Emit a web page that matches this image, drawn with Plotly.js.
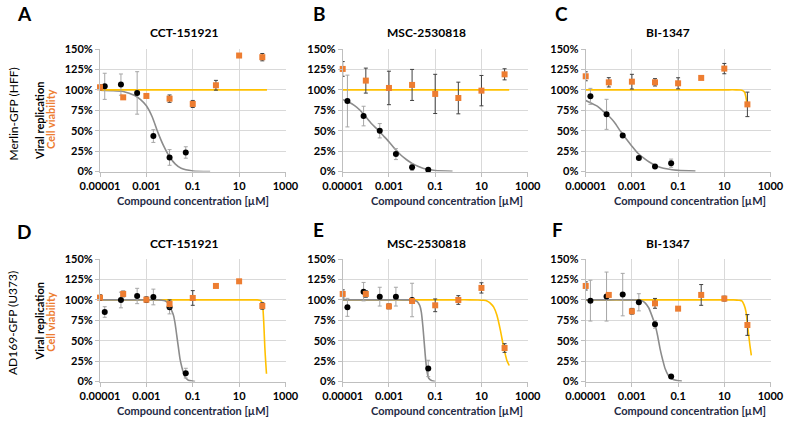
<!DOCTYPE html>
<html>
<head>
<meta charset="utf-8">
<script src="https://cdn.plot.ly/plotly-3.0.1.min.js"></script>
<style>html,body{margin:0;padding:0;background:#fff;}#chart{width:785px;height:422px;}</style>
</head>
<body>
<div id="chart"></div>
<script>
// ---------- DATA ----------
const panelLetters = ["A", "B", "C", "D", "E", "F"];
const compounds = ["CCT-151921", "MSC-2530818", "BI-1347", "CCT-151921", "MSC-2530818", "BI-1347"];
const rowTitles = ["Merlin-GFP (HFF)", "AD169-GFP (U373)"];
const xTickVals = [1e-5, 1e-3, 0.1, 10, 1000];
const xTickText = ["0.00001", "0.001", "0.1", "10", "1000"];

// concentrations (µM)
const concViral = [1.6e-5, 8e-5, 4e-4, 2e-3, 1e-2, 5e-2];
const concViab = [1e-5, 1e-4, 1e-3, 1e-2, 0.1, 1, 10, 100];

// Viral replication (%) and SD
const viralA = [104.3, 106.4, 96.2, 43.4, 17.2, 23.3];
const viralErrA = [16, 13, 26, 7.8, 9.6, 7];
const viralB = [86.3, 67.9, 49.9, 21.3, 5.3, 2];
const viralErrB = [31.7, 12, 8.8, 6.7, 4, 1.5];
const viralC = [92, 70, 44.2, 16.4, 6.1, 10.2];
const viralErrC = [9.8, 18.4, 2, 1, 2.5, 5];
const viralD = [85.1, 99.8, 104.7, 103.5, 90.8, 10.2];
const viralErrD = [6.5, 9.6, 9.4, 9.6, 8, 6];
const viralE = [90.8, 110, 103.9, 103.9, 99.8, 16];
const viralErrE = [11, 11.3, 11.5, 11.5, 20.5, 10];
const viralF = [99, 104, 106.4, 97, 70, 6.1];
const viralErrF = [25, 30, 26, 10.5, 4.7, 1.5];

// Cell viability (%) and SD
const viabA = [103.1, 90.8, 92.5, 89.2, 82.7, 105.6, 142, 140];
const viabErrA = [3, 1.5, 1.5, 4.5, 4.3, 6, 1.5, 4.5];
const viabB = [125.6, 111.3, 102.3, 106, 95, 90, 99, 119];
const viabErrB = [9, 15.3, 20.5, 19, 24, 19.4, 18.6, 6.8];
const viabC = [116.6, 109.2, 110, 109.2, 108, 114.6, 126, 82.2];
const viabErrC = [5.5, 5.7, 9, 4.5, 6.8, 0, 6.3, 15];
const viabD = [102.7, 107.2, 100.2, 94.9, 102.3, 117, 122.7, 92.5];
const viabErrD = [3.5, 3.5, 3.5, 5, 9, 2, 2, 4];
const viabE = [107.2, 107.2, 92, 98.6, 93.3, 99.8, 114.6, 41];
const viabErrE = [5, 4, 3, 3, 7.8, 5.3, 6.3, 5.3];
const viabF = [117, 106, 86, 95.7, 89.2, 106, 101.5, 69.2];
const viabErrF = [5, 1.5, 3.5, 6, 0, 12.7, 3, 12.7];

// Fitted viral curves: log10(conc) and %
const fitViralLogA = [-5, -4.5, -4, -3.5, -3.25, -3, -2.75, -2.5, -2.25, -2, -1.75, -1.5, -1, -0.25];
const fitViralA = [99.5, 99, 98, 93, 88, 80.5, 67, 47.6, 31, 18, 9, 3.9, 0.7, 0];
const fitViralLogB = [-5, -4.75, -4.5, -4.25, -4, -3.75, -3.5, -3.25, -3, -2.75, -2.5, -2.25, -2, -1.75, -1.5, -1, -0.25];
const fitViralB = [88, 85, 81, 75, 67, 58.5, 51.5, 44, 36.5, 28, 20.5, 14.7, 9.9, 6.3, 3.7, 1.3, 0.3];
const fitViralLogC = [-5, -4.75, -4.5, -4.25, -4, -3.75, -3.5, -3.25, -3, -2.75, -2.5, -2.25, -2, -1.75, -1.5, -1, -0.25];
const fitViralC = [87, 83.5, 80, 74, 68, 60, 49.5, 40, 31, 22.6, 16.6, 11.6, 7.7, 5, 3.3, 1.4, 0.4];
const fitViralLogD = [-5, -4, -3, -2.7, -2.5, -2.35, -2.2, -2.05, -1.94, -1.83, -1.76, -1.69, -1.62, -1.55, -1.47, -1.4, -1.33, -1.19, -0.97, -0.9];
const fitViralD = [100, 100, 100, 100, 99.9, 99.6, 98.8, 95.5, 89, 81, 70.8, 56.5, 42, 27.8, 17.6, 10.2, 5.3, 1.6, 0.4, 0];
const fitViralLogE = [-5, -4, -3, -2.4, -2.15, -2.0, -1.9, -1.79, -1.67, -1.6, -1.53, -1.47, -1.41, -1.35, -1.28, -1.14, -1.0];
const fitViralE = [100, 100, 100, 100, 99.9, 99.6, 99.2, 98.2, 93.3, 85, 66.7, 46, 25.8, 11.5, 4, 0.8, 0];
const fitViralLogF = [-5, -4, -3.3, -3.0, -2.8, -2.68, -2.57, -2.43, -2.28, -2.14, -1.99, -1.89, -1.78, -1.66, -1.56, -1.42, -1.27, -1.05, -0.84];
const fitViralF = [100, 100, 100, 99.9, 99.7, 99.4, 98.8, 96.3, 90.6, 81, 68.7, 56.5, 40, 25.8, 15.5, 7.4, 3.3, 1.2, 0.4];

// Fitted viability curves
const fitViabLogA = [-5, 2.2];
const fitViabA = [100, 100];
const fitViabLogB = [-5, 2.2];
const fitViabB = [100, 100];
const fitViabLogC = [-5, -3, -1, 0.5, 1.2, 1.5, 1.7, 1.8, 1.88, 1.93, 1.97, 2.0];
const fitViabC = [100, 100, 100, 100, 100, 100, 99.8, 99, 97, 92, 85, 81];
const fitViabLogD = [-5, -3, -1, 0.5, 1.3, 1.6, 1.78, 1.88, 1.94, 1.978, 2.022, 2.065, 2.108, 2.151, 2.18];
const fitViabD = [100, 100, 100, 100, 100, 100, 99.9, 99.6, 98.8, 97.4, 91, 70.8, 42, 21.7, 9.4];
const fitViabLogE = [-5, -3, -1, 0, 0.5, 0.85, 1.095, 1.24, 1.38, 1.53, 1.67, 1.82, 1.96, 2.1, 2.2];
const fitViabE = [100, 100, 100, 100, 100, 99.8, 99.4, 98.6, 96, 91, 81, 62.6, 42, 25.8, 19.6];
const fitViabLogF = [-5, -3, -1, 0.5, 1.1, 1.4, 1.55, 1.66, 1.76, 1.86, 1.94, 1.99, 2.05, 2.11, 2.17];
const fitViabF = [100, 100, 100, 100, 100, 99.9, 99.7, 99.4, 98.8, 93.5, 85.3, 73, 58.5, 44, 32];

// ---------- BUILD ----------
const W = 785, H = 422;
const viral = [viralA, viralB, viralC, viralD, viralE, viralF];
const viralErr = [viralErrA, viralErrB, viralErrC, viralErrD, viralErrE, viralErrF];
const viab = [viabA, viabB, viabC, viabD, viabE, viabF];
const viabErr = [viabErrA, viabErrB, viabErrC, viabErrD, viabErrE, viabErrF];
const fitVLog = [fitViralLogA, fitViralLogB, fitViralLogC, fitViralLogD, fitViralLogE, fitViralLogF];
const fitV = [fitViralA, fitViralB, fitViralC, fitViralD, fitViralE, fitViralF];
const fitCLog = [fitViabLogA, fitViabLogB, fitViabLogC, fitViabLogD, fitViabLogE, fitViabLogF];
const fitC = [fitViabA, fitViabB, fitViabC, fitViabD, fitViabE, fitViabF];

const colPx = [[100, 285.5], [342.7, 527.7], [585.7, 770.5]];
const rowPx = [[49, 171.5], [259, 381.5]];
const titleX = [183.7, 426.7, 668];
const xTitleX = [192.5, 446.7, 689.7];
const letterPos = [[24, 13], [319.5, 13], [561, 13], [24, 231], [318, 230], [557, 229]];

const FONT = "Lato, 'Open Sans', sans-serif";
const ORANGE = "#ED7D31";
const GOLD = "#FFC000";
const CURVE = "#8C8C8C";

const px = x => x / W;
const py = y => 1 - y / H;
const toConc = arr => arr.map(v => Math.pow(10, v));

const traces = [];
const layout = {
  width: W, height: H,
  margin: {l: 0, r: 0, t: 0, b: 0},
  paper_bgcolor: "#fff", plot_bgcolor: "#fff",
  showlegend: false,
  font: {family: FONT, color: "#000"},
  annotations: []
};

for (let i = 0; i < 6; i++) {
  const col = i % 3, row = Math.floor(i / 3);
  const n = i === 0 ? "" : String(i + 1);
  const xa = "x" + n, ya = "y" + n;

  layout["xaxis" + n] = {
    type: "log", range: [-5, 3],
    domain: [px(colPx[col][0]), px(colPx[col][1])],
    anchor: ya,
    tickmode: "array", tickvals: xTickVals, ticktext: xTickText,
    showgrid: true, gridcolor: "#D9D9D9", gridwidth: 1,
    showline: true, linecolor: "#BFBFBF", linewidth: 1,
    ticks: "outside", ticklen: 4, tickcolor: "#BFBFBF",
    tickfont: {size: 11, family: FONT, weight: 700, color: "#000"},
    zeroline: false, fixedrange: true
  };
  layout["yaxis" + n] = {
    range: [0, 150],
    domain: [py(rowPx[row][1]), py(rowPx[row][0])],
    anchor: xa,
    tickmode: "linear", tick0: 0, dtick: 25, ticksuffix: "%",
    showgrid: true, gridcolor: "#D9D9D9", gridwidth: 1,
    showline: true, linecolor: "#BFBFBF", linewidth: 1,
    ticks: "outside", ticklen: 4, tickcolor: "#BFBFBF",
    tickfont: {size: 11, family: FONT, weight: 700, color: "#000"},
    zeroline: false, fixedrange: true
  };

  const viabLine = {
    x: toConc(fitCLog[i]), y: fitC[i], xaxis: xa, yaxis: ya,
    mode: "lines", line: {color: GOLD, width: 1.6, shape: "spline", smoothing: 0.6},
    hoverinfo: "skip"
  };
  const viralLine = {
    x: toConc(fitVLog[i]), y: fitV[i], xaxis: xa, yaxis: ya,
    mode: "lines", line: {color: CURVE, width: 1.6, shape: "spline", smoothing: 0.6},
    hoverinfo: "skip"
  };
  if (row === 0) { traces.push(viralLine, viabLine); } else { traces.push(viabLine, viralLine); }

  traces.push({
    x: concViral, y: viral[i], xaxis: xa, yaxis: ya,
    mode: "markers", cliponaxis: false,
    marker: {color: "#000", size: 6, symbol: "circle"},
    error_y: {type: "data", array: viralErr[i], visible: true, color: "#A6A6A6", thickness: 1, width: 2}
  });
  traces.push({
    x: concViab, y: viab[i], xaxis: xa, yaxis: ya,
    mode: "markers", cliponaxis: false,
    marker: {color: ORANGE, size: 6, symbol: "square"},
    error_y: {type: "data", array: viabErr[i], visible: true, color: "#404040", thickness: 1, width: 2}
  });

  const rowOff = row === 0 ? 0 : 210;
  layout.annotations.push({
    text: compounds[i], xref: "paper", yref: "paper",
    x: px(titleX[col]), y: py(33 + rowOff), xanchor: "center", yanchor: "middle",
    showarrow: false, font: {size: 12, family: FONT, weight: 700, color: "#000"}
  });
  layout.annotations.push({
    text: "Compound concentration [µM]", xref: "paper", yref: "paper",
    x: px(xTitleX[col]), y: py(200 + rowOff), xanchor: "center", yanchor: "middle",
    showarrow: false, font: {size: 11, family: FONT, weight: 700, color: "#1F2A44"}
  });
  layout.annotations.push({
    text: panelLetters[i], xref: "paper", yref: "paper",
    x: px(letterPos[i][0]), y: py(letterPos[i][1]), xanchor: "center", yanchor: "middle",
    showarrow: false, font: {size: 19, family: FONT, weight: 700, color: "#000"}
  });
}

// row (y-axis) titles
const rowLabelY = [[114, 121, 119], [323.5, 321.5, 321.7]];
for (let r = 0; r < 2; r++) {
  layout.annotations.push({
    text: rowTitles[r], xref: "paper", yref: "paper", textangle: -90,
    x: px(12.5), y: py(rowLabelY[r][0]), xanchor: "center", yanchor: "middle",
    showarrow: false, font: {size: 12, family: FONT, color: "#000"}
  });
  layout.annotations.push({
    text: "Viral replication", xref: "paper", yref: "paper", textangle: -90,
    x: px(39), y: py(rowLabelY[r][1]), xanchor: "center", yanchor: "middle",
    showarrow: false, font: {size: 11, family: FONT, weight: 700, color: "#000"}
  });
  layout.annotations.push({
    text: "Cell viability", xref: "paper", yref: "paper", textangle: -90,
    x: px(51), y: py(rowLabelY[r][2]), xanchor: "center", yanchor: "middle",
    showarrow: false, font: {size: 11, family: FONT, weight: 700, color: ORANGE}
  });
}

Plotly.newPlot("chart", traces, layout, {displayModeBar: false, staticPlot: true});
</script>
</body>
</html>
